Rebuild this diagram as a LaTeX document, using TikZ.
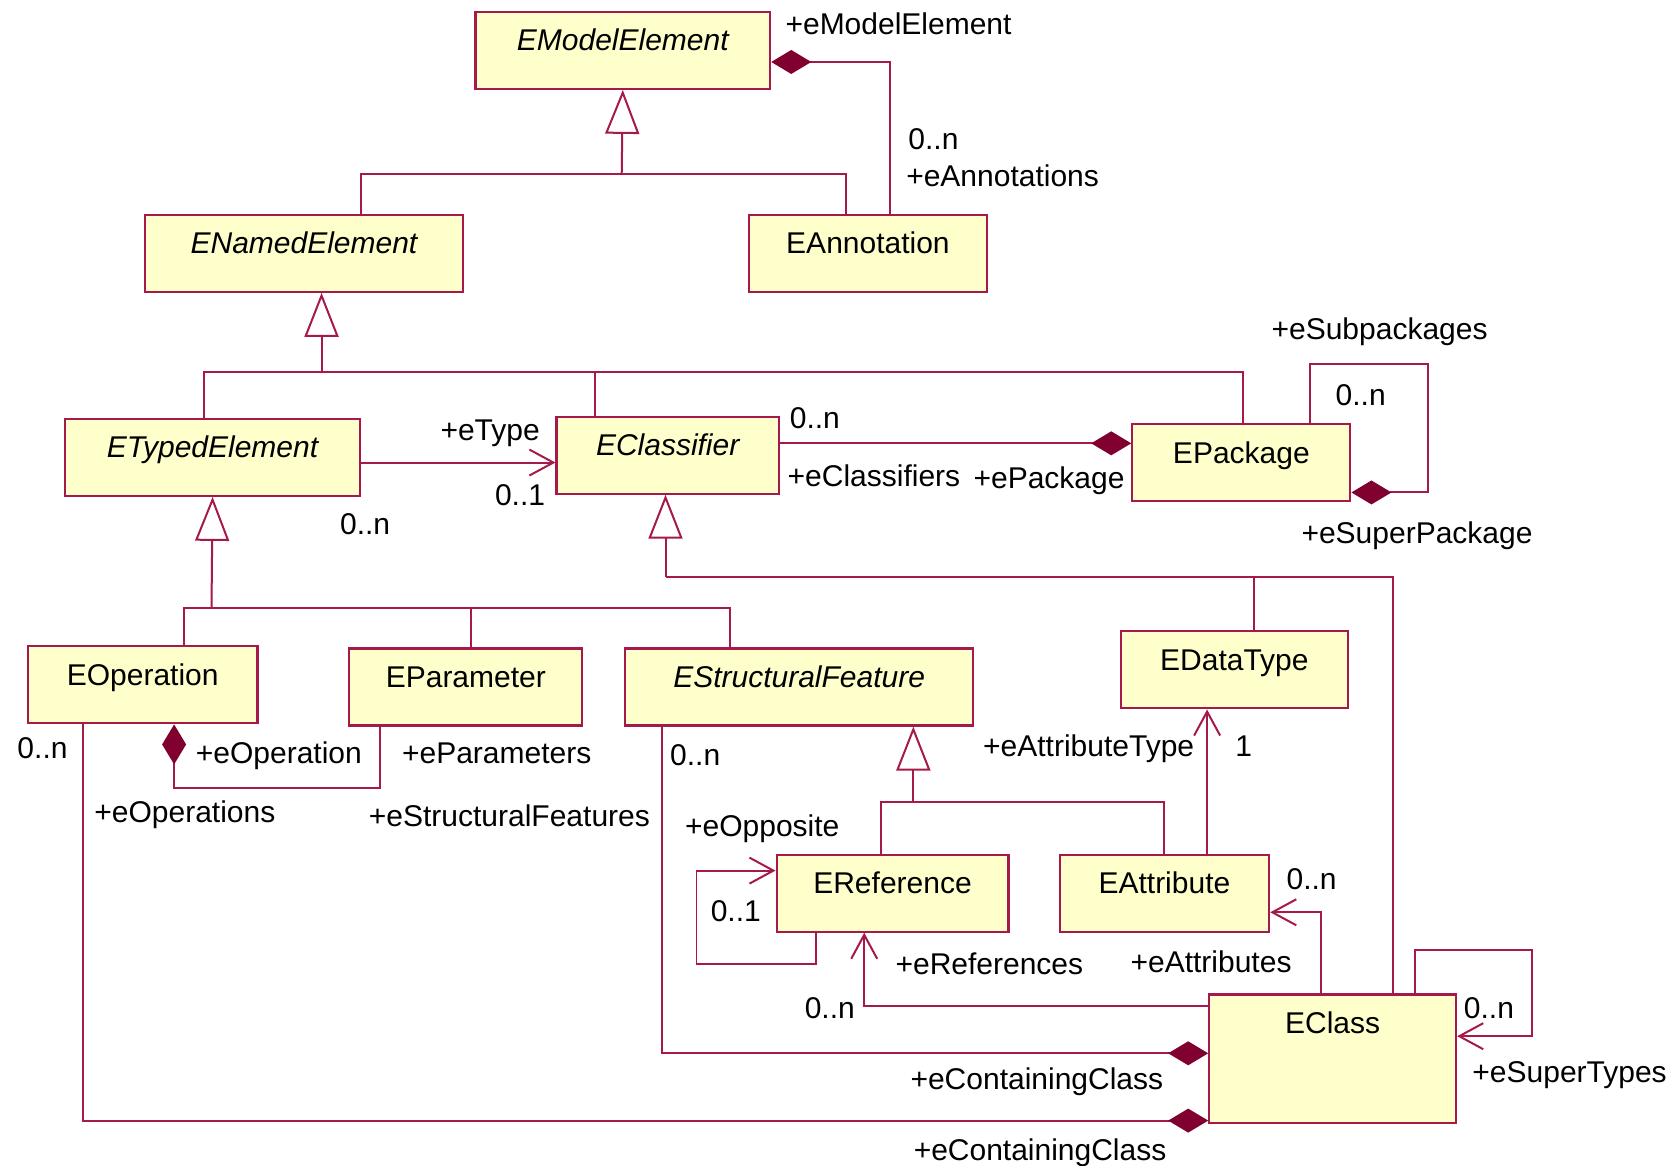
\documentclass[tikz,border=0pt]{standalone}
\usepackage{fontspec}
\setmainfont{Liberation Sans}
\usetikzlibrary{arrows.meta}
\definecolor{umlline}{RGB}{165,25,75}
\definecolor{umldiam}{RGB}{128,0,48}
\definecolor{umlfill}{RGB}{255,255,204}

\begin{document}
\begin{tikzpicture}[x=0.5342pt,y=-0.5342pt,
  font=\fontsize{15}{18}\selectfont,
  cls/.style={draw=umlline, fill=umlfill, line width=1.1pt, rectangle, inner sep=0pt,
              anchor=north west, text height=19.5pt, text depth=19pt},
  ln/.style={draw=umlline, line width=1pt},
  gen/.style={ln, -{Triangle[open, length=22pt, width=17pt, fill=white]}},
  comp/.style={ln, -{Diamond[length=20pt, width=12pt, color=umldiam, fill=umldiam]}},
  nav/.style={ln, -{Straight Barb[length=12pt, width=13pt]}},
  lbl/.style={anchor=base west, inner sep=0pt},
]
\useasboundingbox (0,0) rectangle (1568,1091);

% classes
\node[cls, minimum width=147.4pt] (emod) at (444,10)  {\itshape EModelElement};
\node[cls, minimum width=158.7pt] (ena)  at (135,200) {\itshape ENamedElement};
\node[cls, minimum width=119.1pt] (eann) at (700,200) {EAnnotation};
\node[cls, minimum width=147.4pt] (ete)  at (60,391)  {\itshape ETypedElement};
\node[cls, minimum width=111.1pt] (ecl)  at (520,389) {\itshape EClassifier};
\node[cls, minimum width=109.0pt] (epk)  at (1059,396) {EPackage};
\node[cls, minimum width=114.9pt] (eop)  at (25,604)  {EOperation};
\node[cls, minimum width=116.5pt] (epa)  at (326,606) {EParameter};
\node[cls, minimum width=174.2pt] (esf)  at (584,606) {\itshape EStructuralFeature};
\node[cls, minimum width=113.8pt] (edt)  at (1048,590) {EDataType};
\node[cls, minimum width=115.9pt] (eref) at (726,799) {EReference};
\node[cls, minimum width=104.7pt] (eatt) at (991,799) {EAttribute};
\node[cls, minimum width=123.4pt, text depth=44.6pt] (ecs) at (1131,930) {EClass};

% generalization: EModelElement
\coordinate (g1)  at (582,163);
\coordinate (g1l) at (338,163);
\coordinate (g1r) at (792,163);
\draw[gen] (g1) -- (emod.south);
\draw[ln] (g1l |- ena.north) -- (g1l) -- (g1r) -- (g1r |- eann.north);

% generalization: ENamedElement
\coordinate (g2)  at (301,348);
\coordinate (g2l) at (191,348);
\coordinate (g2m) at (557,348);
\coordinate (g2r) at (1164,348);
\draw[gen] (g2) -- (g2 |- ena.south);
\draw[ln] (g2l |- ete.north) -- (g2l) -- (g2r) -- (g2r |- epk.north);
\draw[ln] (g2m) -- (g2m |- ecl.north);

% generalization: ETypedElement
\coordinate (g3)  at (198,569);
\coordinate (g3l) at (172,569);
\coordinate (g3m) at (441,569);
\coordinate (g3r) at (683,569);
\draw[gen] (g3) -- (ete.south);
\draw[ln] (g3l |- eop.north) -- (g3l) -- (g3r) -- (g3r |- esf.north);
\draw[ln] (g3m) -- (g3m |- epa.north);

% generalization: EClassifier
\coordinate (g4)  at (623,540);
\coordinate (g4m) at (1174,540);
\coordinate (g4r) at (1304,540);
\draw[gen] (g4) -- (g4 |- ecl.south);
\draw[ln] (g4) -- (g4r) -- (g4r |- ecs.north);
\draw[ln] (g4m) -- (g4m |- edt.north);

% generalization: EStructuralFeature
\coordinate (g5)  at (855,751);
\coordinate (g5l) at (825,751);
\coordinate (g5r) at (1090,751);
\draw[gen] (g5) -- (g5 |- esf.south);
\draw[ln] (g5l |- eref.north) -- (g5l) -- (g5r) -- (g5r |- eatt.north);

% associations
\coordinate (a1) at (833,58);
\draw[comp] (a1 |- eann.north) -- (a1) -- (a1 -| emod.east);

\coordinate (a2) at (340,433);
\draw[nav] (a2 -| ete.east) -- (a2 -| ecl.west);

\coordinate (a3) at (733,415);
\draw[comp] (a3 -| ecl.east) -- (a3 -| epk.west);

\coordinate (a4a) at (1226,341);
\coordinate (a4b) at (1337,461);
\draw[comp] (a4a |- epk.north) -- (a4a) -- (a4b |- a4a) -- (a4b) -- (a4b -| epk.east);

\coordinate (a5a) at (356,738);
\coordinate (a5b) at (163,738);
\draw[comp] (a5a |- epa.south) -- (a5a) -- (a5b) -- (a5b |- eop.south);

\coordinate (a6) at (78,1049);
\draw[comp] (a6 |- eop.south) -- (a6) -- (a6 -| ecs.west);

\coordinate (a7) at (620,986);
\draw[comp] (a7 |- esf.south) -- (a7) -- (a7 -| ecs.west);

\coordinate (a8) at (1130,730);
\draw[nav] (a8 |- eatt.north) -- (a8 |- edt.south);

\coordinate (a9a) at (764,902);
\coordinate (a9b) at (652,815);
\draw[nav] (a9a |- eref.south) -- (a9a) -- (a9b |- a9a) -- (a9b) -- (a9b -| eref.west);

\coordinate (a10) at (809,942);
\draw[nav] (a10 -| ecs.west) -- (a10) -- (a10 |- eref.south);

\coordinate (a11) at (1237,854);
\draw[nav] (a11 |- ecs.north) -- (a11) -- (a11 -| eatt.east);

\coordinate (a12a) at (1325,889);
\coordinate (a12b) at (1434,970);
\draw[nav] (a12a |- ecs.north) -- (a12a) -- (a12b |- a12a) -- (a12b) -- (a12b -| ecs.east);

% role names and multiplicities
\node[lbl] (t1)  at (735,32)   {+eModelElement};
\node[lbl] (t2)  at (850,140)  {0..n};
\node[lbl] (t3)  at (848,175)  {+eAnnotations};
\node[lbl] (t4)  at (412,412)  {+eType};
\node[lbl] (t5)  at (463,473)  {0..1};
\node[lbl] (t6)  at (318,500)  {0..n};
\node[lbl] (t7)  at (739,401)  {0..n};
\node[lbl] (t8)  at (737,455)  {+eClassifiers};
\node[lbl] (t9)  at (911,457)  {+ePackage};
\node[lbl] (t10) at (1190,318) {+eSubpackages};
\node[lbl] (t11) at (1250,380) {0..n};
\node[lbl] (t12) at (1218,509) {+eSuperPackage};
\node[lbl] (t13) at (16,710)   {0..n};
\node[lbl] (t14) at (183,715)  {+eOperation};
\node[lbl] (t15) at (376,715)  {+eParameters};
\node[lbl] (t16) at (88,770)   {+eOperations};
\node[lbl] (t17) at (345,774)  {+eStructuralFeatures};
\node[lbl] (t18) at (627,717)  {0..n};
\node[lbl] (t19) at (920,708)  {+eAttributeType};
\node[lbl] (t20) at (1156,708) {1};
\node[lbl] (t21) at (641,783)  {+eOpposite};
\node[lbl] (t22) at (665,863)  {0..1};
\node[lbl] (t23) at (838,912)  {+eReferences};
\node[lbl] (t24) at (1058,910) {+eAttributes};
\node[lbl] (t25) at (1204,833) {0..n};
\node[lbl] (t26) at (753,953)  {0..n};
\node[lbl] (t27) at (1370,953) {0..n};
\node[lbl] (t28) at (1378,1013) {+eSuperTypes};
\node[lbl] (t29) at (852,1020) {+eContainingClass};
\node[lbl] (t30) at (855,1086) {+eContainingClass};
\end{tikzpicture}
\end{document}
